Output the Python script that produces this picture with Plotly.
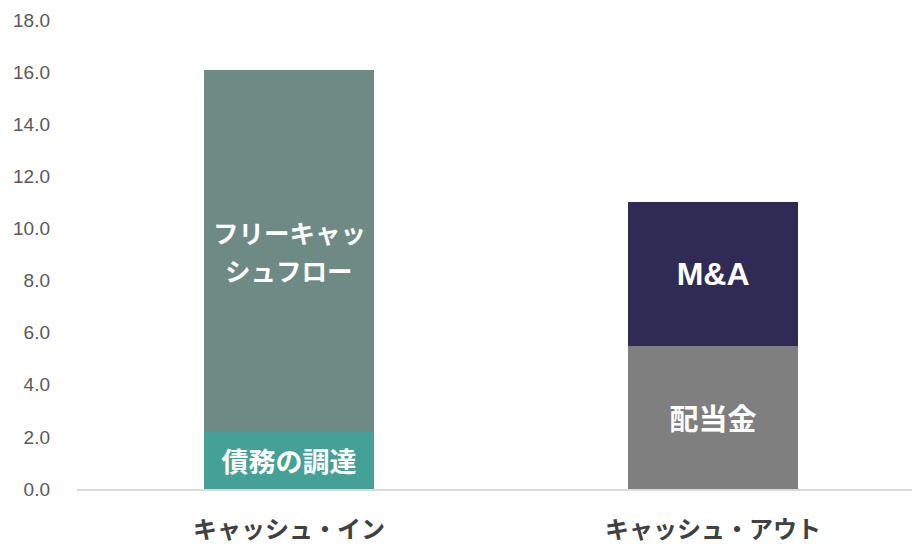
import plotly.graph_objects as go

# Cash in / cash out breakdown (stacked)
categories = ["キャッシュ・イン", "キャッシュ・アウト"]
debt_raising = [2.2, None]        # 債務の調達
free_cash_flow = [13.9, None]     # フリーキャッシュフロー
dividends = [None, 5.5]           # 配当金
mna = [None, 5.5]                 # M&A
y_ticks = [0, 2, 4, 6, 8, 10, 12, 14, 16, 18]

jp_font = "Noto Sans CJK JP"

# (name, values, colour, in-bar label, label font, label size)
series = [
    ("債務の調達", debt_raising, "#45A197", "債務の調達", jp_font, 27),
    ("フリーキャッシュフロー", free_cash_flow, "#6E8A84", None, jp_font, 25.5),
    ("配当金", dividends, "#7F7F7F", "配当金", jp_font, 29),
    ("M&A", mna, "#302B55", "M&A", "Liberation Sans, Arial", 32),
]

fig = go.Figure()
for name, vals, color, label, fam, size in series:
    fig.add_trace(go.Bar(
        name=name,
        x=categories,
        y=vals,
        width=0.4,
        marker=dict(color=color, line=dict(width=0)),
        text=[label if (v is not None and label) else "" for v in vals],
        textposition="inside",
        insidetextanchor="middle",
        textangle=0,
        textfont=dict(family=fam, size=size, color="white", weight="bold"),
        hoverinfo="skip",
    ))

# Two-line label for the free cash flow segment, centred on that segment
fcf_mid = debt_raising[0] + free_cash_flow[0] / 2
for line, shift in (("フリーキャッ", 19), ("シュフロー", -19)):
    fig.add_annotation(
        x=categories[0], y=fcf_mid, text=line, showarrow=False,
        yshift=shift, xanchor="center", yanchor="middle",
        font=dict(family=jp_font, size=25.5, color="white", weight="bold"),
    )

fig.update_layout(
    barmode="stack",
    width=912,
    height=550,
    margin=dict(l=77, r=0, t=20, b=61),
    paper_bgcolor="white",
    plot_bgcolor="white",
    showlegend=False,
    xaxis=dict(
        type="category",
        range=[-0.5, 1.469],
        showline=True,
        linecolor="#D9D9D9",
        linewidth=2,
        ticks="",
        showgrid=False,
        zeroline=False,
        ticklabelstandoff=18,
        tickfont=dict(family=jp_font, size=24, color="#404040", weight="bold"),
    ),
    yaxis=dict(
        range=[0, 18],
        tickvals=y_ticks,
        ticktext=[f"{v:.1f}" for v in y_ticks],
        showgrid=False,
        zeroline=False,
        showline=False,
        ticks="",
        ticklabelstandoff=26,
        tickfont=dict(family="Liberation Sans, Arial", size=19, color="#595959"),
    ),
)

fig.write_html("out.html")
